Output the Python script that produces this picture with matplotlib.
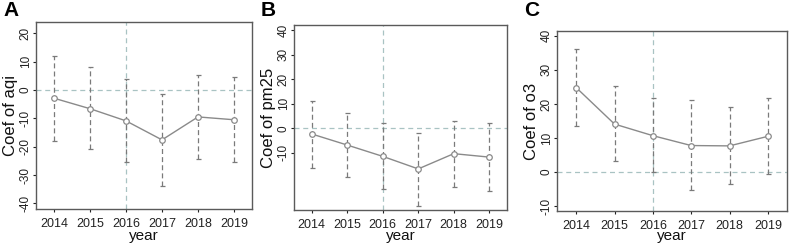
import matplotlib
matplotlib.use('Agg')
import matplotlib.pyplot as plt
import numpy as np

plt.rcParams['font.family'] = ['Liberation Sans', 'DejaVu Sans']

years = [2014, 2015, 2016, 2017, 2018, 2019]

# panel A: aqi
aqi_coef = [-2.9, -6.6, -10.9, -17.6, -9.5, -10.5]
aqi_lo = [-18.0, -20.9, -25.5, -33.8, -24.4, -25.3]
aqi_hi = [12.1, 8.0, 3.8, -1.5, 5.2, 4.5]

# panel B: pm25
pm25_coef = [-2.3, -6.8, -11.4, -16.5, -10.3, -11.7]
pm25_lo = [-16.0, -19.8, -24.7, -31.5, -23.9, -25.4]
pm25_hi = [11.1, 6.4, 2.0, -2.0, 3.1, 2.3]

# panel C: o3
o3_coef = [24.8, 14.1, 10.7, 7.8, 7.7, 10.5]
o3_lo = [13.5, 3.2, 0.0, -5.3, -3.4, -0.6]
o3_hi = [36.2, 25.2, 21.8, 21.1, 19.0, 21.7]

W, H = 789, 248
fig = plt.figure(figsize=(W / 100, H / 100), dpi=100)

spine_col = '#5a5a5a'
ref_col = '#a9c3c3'
bar_col = '#7a7a7a'
line_col = '#8a8a8a'


def add_panel(box, coef, lo, hi, ylim, yticks, ylabel, letter, ylab_x):
    l, r, t, b = box
    ax = fig.add_axes([l / W, 1 - b / H, (r - l) / W, (b - t) / H])
    ax.axhline(0, color=ref_col, lw=0.9, ls=(0, (4, 3)), zorder=1)
    ax.axvline(2016, color=ref_col, lw=0.9, ls=(0, (4, 3)), zorder=1)
    coef = np.array(coef)
    err = [coef - np.array(lo), np.array(hi) - coef]
    eb = ax.errorbar(years, coef, yerr=err, fmt='none', ecolor=bar_col,
                     elinewidth=0.9, capsize=1.8, capthick=0.9, zorder=2)
    eb[2][0].set_linestyle((0, (4, 2.5)))
    ax.plot(years, coef, color=line_col, lw=1.0, marker='o', markersize=4,
            markerfacecolor='white', markeredgecolor=line_col, mew=0.9, zorder=3)
    ax.set_xlim(2013.5, 2019.5)
    ax.set_ylim(*ylim)
    ax.set_xticks(years)
    ax.set_yticks(yticks)
    ax.set_yticklabels([str(v) for v in yticks], rotation=90, va='center')
    ax.tick_params(colors='#222222', length=2.5, width=0.8, direction='out')
    ax.tick_params(axis='x', labelsize=9, pad=4)
    ax.tick_params(axis='y', labelsize=8.5, pad=0.5)
    for s in ax.spines.values():
        s.set_color(spine_col)
        s.set_linewidth(1.0)
    ax.set_xlabel('year', fontsize=11, color='#111111')
    ax.set_ylabel(ylabel, fontsize=12, color='#111111')
    ax.xaxis.set_label_coords(0.5, -(229 - b) / (b - t))
    ax.yaxis.set_label_coords((ylab_x - l) / (r - l), 0.5)
    ax.yaxis.label.set_va('center')
    fig.text((l - 33) / W, 1 - 11 / H, letter, fontsize=15, fontweight='bold',
             ha='left', va='center')
    return ax


add_panel((36, 252, 22, 209), aqi_coef, aqi_lo, aqi_hi, (-42, 24),
          [-40, -30, -20, -10, 0, 10, 20], 'Coef of aqi', 'A', 11)
add_panel((294, 507, 25, 210), pm25_coef, pm25_lo, pm25_hi, (-33.2, 42),
          [-10, 0, 10, 20, 30, 40], 'Coef of pm25', 'B', 269)
add_panel((557, 787, 31, 211), o3_coef, o3_lo, o3_hi, (-11.4, 41.4),
          [-10, 0, 10, 20, 30, 40], 'Coef of o3', 'C', 532)

fig.savefig('out.png', dpi=100)
